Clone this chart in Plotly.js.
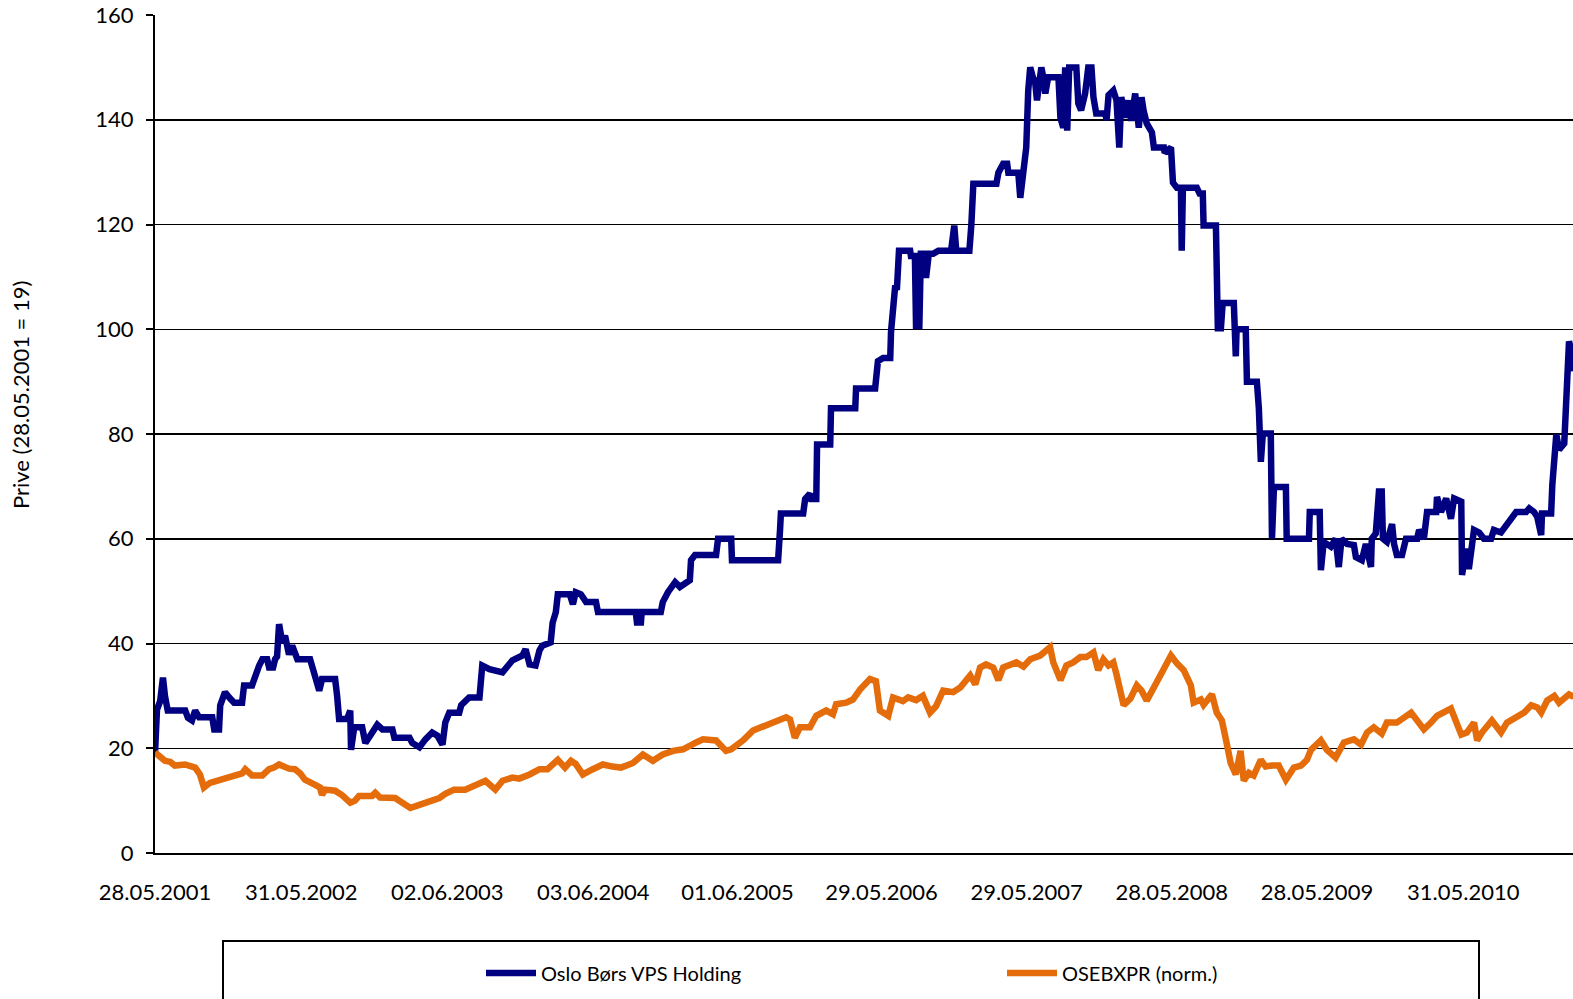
<!DOCTYPE html>
<html>
<head>
<meta charset="utf-8">
<script src="https://cdn.plot.ly/plotly-3.0.1.min.js"></script>
<style>
  html, body { margin: 0; padding: 0; background: #fff; }
  #chart { width: 1573px; height: 999px; }
</style>
</head>
<body>
<div id="chart"></div>
<script>
// ---- data ----
const tickDates = ['2001-05-28','2002-05-31','2003-06-02','2004-06-03','2005-06-01','2006-05-29','2007-05-29','2008-05-28','2009-05-28','2010-05-31'];
const tickLabels = ['28.05.2001','31.05.2002','02.06.2003','03.06.2004','01.06.2005','29.05.2006','29.05.2007','28.05.2008','28.05.2009','31.05.2010'];

const seriesNames = ['Oslo Børs VPS Holding', 'OSEBXPR (norm.)'];

const vpsDates = [
'2001-05-28','2001-06-02','2001-06-10','2001-06-17','2001-06-22','2001-06-29','2001-08-12','2001-08-19','2001-08-29','2001-09-06',
'2001-09-16','2001-10-19','2001-10-24','2001-11-05','2001-11-08','2001-11-20','2001-12-03','2001-12-13','2002-01-02','2002-01-07',
'2002-01-27','2002-02-04','2002-02-14','2002-02-22','2002-03-06','2002-03-11','2002-03-21','2002-03-26','2002-03-31','2002-04-05',
'2002-04-13','2002-04-20','2002-04-30','2002-05-08','2002-05-21','2002-06-22','2002-07-05','2002-07-15','2002-07-22','2002-08-24',
'2002-08-29','2002-09-03','2002-09-23','2002-10-01','2002-10-03','2002-10-11','2002-10-31','2002-11-08','2002-11-20','2002-12-08',
'2002-12-21','2003-01-15','2003-01-20','2003-02-27','2003-03-06','2003-03-24','2003-04-08','2003-04-25','2003-05-08','2003-05-21',
'2003-05-28','2003-06-07','2003-07-02','2003-07-07','2003-07-27','2003-08-22','2003-08-29','2003-09-16','2003-10-19','2003-11-13',
'2003-12-08','2003-12-16','2003-12-26','2004-01-10','2004-01-20','2004-01-27','2004-02-17','2004-02-22','2004-03-01','2004-03-06',
'2004-04-05','2004-04-13','2004-04-20','2004-05-03','2004-05-16','2004-06-10','2004-06-15','2004-09-18','2004-09-21','2004-10-01',
'2004-10-03','2004-11-20','2004-11-25','2004-12-08','2004-12-26','2005-01-07','2005-02-01','2005-02-04','2005-02-14','2005-04-08',
'2005-04-13','2005-05-16','2005-05-18','2005-09-11','2005-09-16','2005-09-18','2005-11-13','2005-11-18','2005-11-30','2005-12-03',
'2005-12-16','2005-12-18','2006-01-20','2006-01-22','2006-03-24','2006-03-26','2006-05-13','2006-05-15','2006-05-20','2006-06-02',
'2006-06-20','2006-06-22','2006-07-02','2006-07-07','2006-07-12','2006-08-09','2006-08-11','2006-08-21','2006-08-24','2006-08-29',
'2006-09-01','2006-09-05','2006-09-10','2006-09-18','2006-09-25','2006-10-06','2006-10-19','2006-11-20','2006-11-28','2006-12-03',
'2007-01-05','2007-01-10','2007-01-15','2007-03-14','2007-03-19','2007-03-31','2007-04-10','2007-04-13','2007-05-08','2007-05-13',
'2007-05-21','2007-05-28','2007-06-02','2007-06-07','2007-06-14','2007-06-19','2007-06-24','2007-06-29','2007-07-05','2007-07-10',
'2007-07-15','2007-07-22','2007-08-17','2007-08-22','2007-08-29','2007-09-03','2007-09-08','2007-09-13','2007-09-18','2007-09-23',
'2007-10-01','2007-10-06','2007-10-13','2007-10-23','2007-10-31','2007-11-08','2007-11-13','2007-11-20','2007-12-13','2007-12-16',
'2007-12-21','2008-01-02','2008-01-10','2008-01-17','2008-01-22','2008-02-01','2008-02-09','2008-02-16','2008-02-26','2008-03-06',
'2008-03-13','2008-03-18','2008-03-26','2008-04-08','2008-04-13','2008-05-08','2008-05-10','2008-05-26','2008-05-31','2008-06-10',
'2008-06-20','2008-06-22','2008-06-25','2008-07-30','2008-08-06','2008-08-14','2008-08-16','2008-09-16','2008-09-18','2008-09-21',
'2008-09-26','2008-09-28','2008-10-03','2008-10-31','2008-11-05','2008-11-07','2008-11-30','2008-12-03','2008-12-28','2009-01-02',
'2009-01-07','2009-01-12','2009-02-01','2009-02-04','2009-02-09','2009-03-11','2009-03-13','2009-05-08','2009-05-10','2009-06-04',
'2009-06-07','2009-06-14','2009-07-02','2009-07-14','2009-07-22','2009-07-29','2009-08-12','2009-08-29','2009-09-03','2009-09-18',
'2009-09-28','2009-10-11','2009-10-13','2009-10-23','2009-10-31','2009-11-07','2009-11-10','2009-11-20','2009-12-03','2009-12-08',
'2009-12-15','2009-12-28','2010-01-07','2010-02-04','2010-02-09','2010-02-21','2010-03-01','2010-03-24','2010-03-26','2010-04-05',
'2010-04-18','2010-04-30','2010-05-08','2010-05-26','2010-05-28','2010-06-07','2010-06-14','2010-06-27','2010-07-10','2010-07-22',
'2010-08-09','2010-08-16','2010-09-03','2010-09-18','2010-10-01','2010-10-11','2010-11-05','2010-11-13','2010-11-25','2010-12-03',
'2010-12-13','2010-12-15','2011-01-07','2011-01-10','2011-01-20','2011-01-27','2011-02-09','2011-02-14','2011-02-21','2011-03-01',
'2011-03-05'
];
const vpsValues = [
19,27.4,29,33.5,30,27.2,27.2,25.8,25.3,27.2,
25.9,25.9,23.6,23.6,28.2,30.7,29.5,28.7,28.7,32,
32,34.1,35.8,37,37,35.4,35.4,37,37.5,43.7,
40.2,41.5,37.9,39.6,37,37,33.9,31,33.2,33.2,
30,25.6,25.6,27.2,19.7,24,24,21,22.4,24.5,
23.6,23.6,22,22,21,20.2,21.7,23,22.4,20.7,
24.9,26.8,26.8,28.2,29.7,29.7,35.8,35.1,34.5,36.8,
37.7,38.9,36,35.8,38.7,39.6,40.2,44,46,49.4,
49.4,47.5,49.8,49.4,47.9,47.9,46,46,44,44,
46,46,47.9,49.8,51.7,50.8,52.1,55.9,56.9,56.9,
60,60,55.9,55.9,61.9,64.8,64.8,67.6,68.6,67.6,
67.6,78,78,84.9,84.9,88.7,88.7,91.4,93.9,94.5,
94.5,99.6,107.9,108,115,115,114,114,100,112,
100,114.4,114.4,109.8,114.4,114.4,115,115,119.8,115,
115,120,127.8,127.8,129.9,131.6,131.6,129.9,129.9,125.1,
130.3,134.7,145.6,150,148,147.5,143.7,146,150,148,
145,148.1,148.1,140.4,138.5,150,137.9,150,150,150,
150,143.1,141.8,145,150,150,144.3,141.2,141.2,139.9,
144.7,145.6,143.7,134.7,144.3,140.4,143.7,139.8,145,138.5,
144.3,141.8,139.3,137.6,134.7,134.7,133.7,134.7,128,127,
127,115,127,127,125.9,125.9,119.8,119.8,109.8,99.6,
105.4,99.6,105,105,94.8,100,100,90,90,84.9,
74.7,80.1,80.1,60,69.9,69.9,60,60,65.1,65.1,
54,59.4,58.5,60,54.6,60,59,58.8,56.5,55.9,
59,54.6,60,61,69,69,60,59.4,62.8,59,
56.9,56.9,60,60,61.7,60,65.1,65.1,68,65.1,
67.7,63.8,67.7,67.1,53.1,58.1,54.2,61.7,61.2,60,
60,61.7,61.2,62.6,64.2,65.1,65.1,65.8,65.1,64.2,
60.7,64.8,64.8,70.3,79.9,77,78.2,90,97.7,95.2,
92
];

const oseDates = [
'2001-05-28','2001-06-10','2001-06-22','2001-07-05','2001-07-17','2001-08-12','2001-09-06','2001-09-18','2001-09-28','2001-10-13',
'2001-10-28','2001-11-13','2001-12-08','2002-01-02','2002-01-10','2002-01-20','2002-01-27','2002-02-22','2002-03-11','2002-03-23',
'2002-04-05','2002-04-30','2002-05-15','2002-05-28','2002-06-09','2002-07-05','2002-07-17','2002-07-22','2002-07-30','2002-08-24',
'2002-09-11','2002-10-01','2002-10-13','2002-10-23','2002-11-25','2002-12-03','2002-12-15','2003-01-22','2003-02-17','2003-03-01',
'2003-03-24','2003-04-18','2003-05-13','2003-05-28','2003-06-19','2003-07-17','2003-08-11','2003-09-06','2003-10-01','2003-10-19',
'2003-11-13','2003-11-30','2003-12-26','2004-01-20','2004-02-09','2004-03-06','2004-03-24','2004-04-08','2004-04-20','2004-05-08',
'2004-06-02','2004-06-27','2004-07-22','2004-08-12','2004-09-11','2004-10-06','2004-10-31','2004-11-25','2004-12-21','2005-01-15',
'2005-02-17','2005-03-06','2005-04-08','2005-04-26','2005-05-03','2005-05-16','2005-06-15','2005-07-10','2005-08-12','2005-09-06',
'2005-10-01','2005-10-11','2005-10-23','2005-11-05','2005-11-30','2005-12-16','2006-01-10','2006-01-27','2006-02-04','2006-03-01',
'2006-03-18','2006-04-05','2006-04-30','2006-05-15','2006-05-25','2006-06-15','2006-06-27','2006-07-22','2006-08-04','2006-08-24',
'2006-09-10','2006-09-28','2006-10-13','2006-10-31','2006-11-25','2006-12-13','2007-01-07','2007-01-20','2007-02-01','2007-02-16',
'2007-03-06','2007-03-19','2007-03-31','2007-05-03','2007-05-21','2007-06-07','2007-07-02','2007-07-27','2007-08-04','2007-08-22',
'2007-09-06','2007-09-23','2007-10-11','2007-10-26','2007-11-13','2007-11-25','2007-12-08','2007-12-21','2008-01-02','2008-01-10',
'2008-01-28','2008-02-14','2008-03-01','2008-03-13','2008-03-26','2008-04-20','2008-05-08','2008-05-26','2008-06-10','2008-06-27',
'2008-07-15','2008-07-22','2008-08-09','2008-08-16','2008-09-06','2008-09-18','2008-10-01','2008-10-06','2008-10-13','2008-10-23',
'2008-11-05','2008-11-17','2008-11-25','2008-12-08','2008-12-20','2009-01-07','2009-01-19','2009-02-04','2009-02-21','2009-03-11',
'2009-03-31','2009-04-18','2009-05-03','2009-05-13','2009-06-07','2009-06-22','2009-07-14','2009-08-04','2009-08-29','2009-09-16',
'2009-10-01','2009-10-18','2009-11-07','2009-11-20','2009-12-15','2010-01-20','2010-02-04','2010-02-21','2010-03-11','2010-03-26',
'2010-04-20','2010-04-30','2010-05-16','2010-05-26','2010-06-09','2010-06-27','2010-07-05','2010-07-17','2010-08-11','2010-09-03',
'2010-09-18','2010-10-13','2010-10-31','2010-11-18','2010-12-03','2010-12-13','2010-12-28','2011-01-15','2011-01-27','2011-02-21',
'2011-03-05'
];
const oseValues = [
19.2,18.3,17.6,17.4,16.7,16.9,16.3,15,12.5,13.4,
13.7,14,14.8,15.2,16,15.2,14.8,14.8,16,16.3,
16.9,16.1,16,15.2,14,13,12.5,11.1,12.1,11.9,
11,9.6,10,10.9,10.9,11.5,10.6,10.5,9.2,8.6,
9.2,9.8,10.5,11.3,12.1,12.1,13,13.8,12.1,13.8,
14.4,14.2,15,16,16,17.8,16.3,17.6,17,15,
16,16.9,16.5,16.3,17.2,18.8,17.6,18.8,19.5,19.8,
21.1,21.7,21.5,20,19.5,19.8,21.5,23.4,24.5,25.3,
25.9,25.5,22,24,24,26.2,27.2,26.5,28.4,28.7,
29.3,31.2,33.2,32.8,27.2,26.2,29.7,29,29.7,29.2,
30,26.8,28,31,30.7,31.6,33.9,32.2,35.4,36,
35.4,33,35.4,36.4,35.6,37,37.7,39.3,36.4,33,
35.8,36.4,37.4,37.4,38.3,34.9,37,35.8,36.4,34.1,
28.2,29.5,32,31,29.1,32.6,35,37.7,36.2,34.9,
32,28.7,29.3,28.3,30.3,26.8,25.3,23,21,17.2,
15,19.5,13.8,15.3,14.8,17.8,16.5,16.7,16.7,14,
16.3,16.7,17.8,19.7,21.5,19.7,18.2,21.1,21.7,20.7,
23,24,22.8,24.9,24.9,26.8,25.5,23.6,24.9,26.2,
27.2,27.6,24.5,22.6,23,24.9,21.5,23,25.3,23,
24.9,25.9,26.8,28.2,27.8,26.8,29.1,30,28.7,30.3,
29.8
];

// ---- chart ----
const FONT = 'Lato, "Open Sans", sans-serif';
const traces = [
  { x: vpsDates, y: vpsValues, name: seriesNames[0], type: 'scatter', mode: 'lines',
    legend: 'legend', line: { color: '#000080', width: 6.5, shape: 'linear' } },
  { x: oseDates, y: oseValues, name: seriesNames[1], type: 'scatter', mode: 'lines',
    legend: 'legend2', line: { color: '#E46C0A', width: 6.5, shape: 'linear' } }
];

const PL = 155, PT = 15, PB = 853, PW = 1573 - PL, PH = PB - PT;
const px2x = p => (p - PL) / PW;
const py2y = p => (PB - p) / PH;

const legendCommon = {
  orientation: 'h', xanchor: 'left', yanchor: 'middle',
  itemwidth: 50,
  font: { family: FONT, size: 20, color: '#000' },
  bgcolor: 'rgba(0,0,0,0)', borderwidth: 0
};

const layout = {
  width: 1573, height: 999,
  margin: { l: PL, r: 0, t: PT, b: 999 - PB },
  paper_bgcolor: '#ffffff', plot_bgcolor: '#ffffff',
  font: { family: FONT, color: '#000', size: 22 },
  showlegend: true,
  xaxis: {
    type: 'date',
    range: ['2001-05-28', '2011-03-03'],
    tickmode: 'array', tickvals: tickDates, ticktext: tickLabels,
    ticks: '', showgrid: false, zeroline: false,
    showline: true, linecolor: '#000', linewidth: 2,
    tickfont: { family: FONT, size: 22, color: '#000' },
    ticklabelstandoff: 19
  },
  yaxis: {
    range: [0, 160], dtick: 20, tick0: 0,
    ticks: 'outside', ticklen: 7, tickwidth: 2, tickcolor: '#000',
    showline: true, linecolor: '#000', linewidth: 2,
    showgrid: true, gridcolor: '#000', gridwidth: 1.5,
    zeroline: false,
    tickfont: { family: FONT, size: 22, color: '#000' },
    ticklabelstandoff: 8
  },
  legend: Object.assign({}, legendCommon, { x: px2x(481), y: py2y(973) }),
  legend2: Object.assign({}, legendCommon, { x: px2x(1002), y: py2y(973) }),
  shapes: [
    { type: 'rect', xref: 'paper', yref: 'paper',
      x0: px2x(223), x1: px2x(1479),
      y0: py2y(941), y1: py2y(1012),
      line: { color: '#000', width: 2 }, fillcolor: 'rgba(0,0,0,0)', layer: 'below' }
  ],
  annotations: [
    { text: 'Prive (28.05.2001 = 19)', xref: 'paper', yref: 'paper',
      x: px2x(20), y: py2y(395), xanchor: 'center', yanchor: 'middle',
      textangle: -90, showarrow: false,
      font: { family: FONT, size: 22, color: '#000' } }
  ]
};

Plotly.newPlot('chart', traces, layout, { displayModeBar: false, staticPlot: true });
</script>
</body>
</html>
